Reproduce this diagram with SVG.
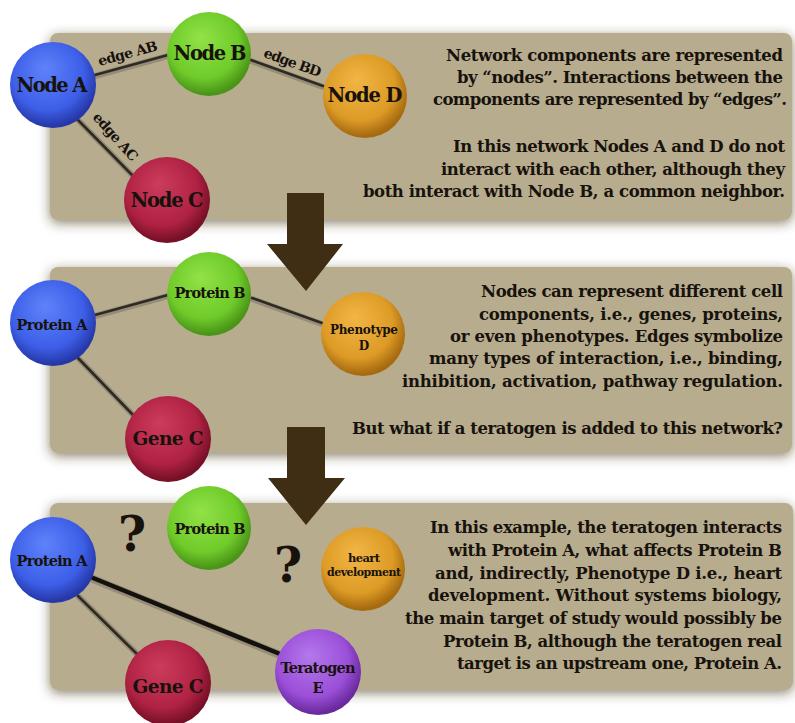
<svg xmlns="http://www.w3.org/2000/svg" width="795" height="723" viewBox="0 0 795 723">
  <defs>
    <filter id="panelShadow" x="-5%" y="-12%" width="110%" height="128%">
      <feDropShadow dx="0" dy="3" stdDeviation="6" flood-color="#3d2e14" flood-opacity="0.6"/>
    </filter>
    <radialGradient id="gBlue" cx="45%" cy="40%" r="58%" fx="40%" fy="30%">
      <stop offset="0" stop-color="#5f82fa"/>
      <stop offset="0.72" stop-color="#3d5fe8"/>
      <stop offset="1" stop-color="#2638a8"/>
    </radialGradient>
    <radialGradient id="gGreen" cx="45%" cy="40%" r="58%" fx="40%" fy="30%">
      <stop offset="0" stop-color="#92e248"/>
      <stop offset="0.72" stop-color="#6fcb2a"/>
      <stop offset="1" stop-color="#4a9418"/>
    </radialGradient>
    <radialGradient id="gOrange" cx="45%" cy="40%" r="58%" fx="40%" fy="30%">
      <stop offset="0" stop-color="#f2b646"/>
      <stop offset="0.72" stop-color="#dd9b26"/>
      <stop offset="1" stop-color="#a66a10"/>
    </radialGradient>
    <radialGradient id="gRed" cx="45%" cy="40%" r="58%" fx="40%" fy="30%">
      <stop offset="0" stop-color="#cc3c5c"/>
      <stop offset="0.72" stop-color="#b02244"/>
      <stop offset="1" stop-color="#761026"/>
    </radialGradient>
    <radialGradient id="gPurple" cx="45%" cy="40%" r="58%" fx="40%" fy="30%">
      <stop offset="0" stop-color="#b478ec"/>
      <stop offset="0.72" stop-color="#9b4fd8"/>
      <stop offset="1" stop-color="#6a2a9e"/>
    </radialGradient>
  </defs>
  <style>
    .panel { fill: #b8ac8f; filter: url(#panelShadow); }
    .arrow { fill: #3f2d14; }
    .edge-halo { stroke: #968c78; stroke-width: 6; stroke-linecap: round; fill: none; }
    .edge { stroke: #2e2a22; stroke-width: 2.6; stroke-linecap: round; fill: none; }
    .edge-strong { stroke: #14110c; stroke-width: 4.5; stroke-linecap: round; fill: none; }
    text { font-family: "DejaVu Serif", "Liberation Serif", serif; font-weight: bold; fill: #17120c; }
    .body { font-size: 16.5px; text-anchor: end; }
    .label { text-anchor: middle; }
    .elabel { font-size: 14px; text-anchor: middle; }
    .q { font-size: 48px; text-anchor: middle; }
  </style>

  <!-- background panels -->
  <g id="panels">
    <rect class="panel" x="50" y="33" width="742" height="187" rx="8"/>
    <rect class="panel" x="50" y="267" width="742" height="186" rx="8"/>
    <rect class="panel" x="50" y="503" width="743" height="187" rx="8"/>
  </g>

  <!-- flow arrows between panels -->
  <g id="arrows">
    <path class="arrow" d="M287,193 H324 V244 H343 L306,291 L267,244 H287 Z"/>
    <path class="arrow" d="M287,427 H325 V478 H345 L306,525 L268,478 H287 Z"/>
  </g>

  <!-- connectors -->
  <g id="connectors">
    <line class="edge-halo" x1="95" y1="76" x2="168" y2="56"/>
    <line class="edge" x1="95" y1="75" x2="168" y2="55"/>
    <line class="edge-halo" x1="251" y1="61" x2="323" y2="87"/>
    <line class="edge" x1="251" y1="60" x2="323" y2="86"/>
    <line class="edge-halo" x1="79" y1="121" x2="134" y2="177"/>
    <line class="edge" x1="78" y1="120" x2="133" y2="176"/>

    <line class="edge-halo" x1="95" y1="316" x2="168" y2="296"/>
    <line class="edge" x1="95" y1="315" x2="168" y2="295"/>
    <line class="edge-halo" x1="252" y1="299" x2="322" y2="324"/>
    <line class="edge" x1="252" y1="298" x2="322" y2="323"/>
    <line class="edge-halo" x1="79" y1="359" x2="134" y2="416"/>
    <line class="edge" x1="78" y1="358" x2="133" y2="415"/>

    <line class="edge-halo" x1="79" y1="597" x2="139" y2="656"/>
    <line class="edge" x1="78" y1="596" x2="138" y2="655"/>
    <line class="edge-halo" style="stroke-width:8" x1="93" y1="579" x2="280" y2="655"/>
    <line class="edge-strong" x1="93" y1="578" x2="280" y2="654"/>
  </g>

  <!-- edge labels -->
  <g id="edge-labels">
    <text class="elabel" transform="translate(129,58) rotate(-15)" textLength="61">edge AB</text>
    <text class="elabel" transform="translate(291,67) rotate(20)" textLength="60">edge BD</text>
    <text class="elabel" transform="translate(112,140) rotate(48)" textLength="60">edge AC</text>
  </g>

  <!-- panel 1 nodes -->
  <g id="node-a">
    <circle cx="53" cy="85" r="43" fill="url(#gBlue)"/>
    <text class="label" x="52" y="92" font-size="19.5" textLength="71">Node A</text>
  </g>
  <g id="node-b">
    <circle cx="209" cy="54" r="42" fill="url(#gGreen)"/>
    <text class="label" x="210" y="60" font-size="19.5" textLength="73">Node B</text>
  </g>
  <g id="node-d">
    <circle cx="365" cy="96" r="42" fill="url(#gOrange)"/>
    <text class="label" x="365" y="102" font-size="19.5" textLength="75">Node D</text>
  </g>
  <g id="node-c">
    <circle cx="167" cy="200" r="43" fill="url(#gRed)"/>
    <text class="label" x="167" y="207" font-size="19.5" textLength="73">Node C</text>
  </g>

  <!-- panel 2 nodes -->
  <g id="protein-a-1">
    <circle cx="53" cy="323" r="43" fill="url(#gBlue)"/>
    <text class="label" x="52" y="330" font-size="14.5" textLength="71">Protein A</text>
  </g>
  <g id="protein-b-1">
    <circle cx="209" cy="294" r="42" fill="url(#gGreen)"/>
    <text class="label" x="210" y="298" font-size="14.5" textLength="71">Protein B</text>
  </g>
  <g id="phenotype-d">
    <circle cx="363" cy="334" r="42" fill="url(#gOrange)"/>
    <text class="label" x="364" y="334" font-size="12" textLength="68">Phenotype</text>
    <text class="label" x="364" y="350" font-size="12">D</text>
  </g>
  <g id="gene-c-1">
    <circle cx="168" cy="439" r="43" fill="url(#gRed)"/>
    <text class="label" x="168" y="445" font-size="18.5" textLength="71">Gene C</text>
  </g>

  <!-- panel 3 nodes -->
  <g id="protein-a-2">
    <circle cx="53" cy="560" r="43" fill="url(#gBlue)"/>
    <text class="label" x="52" y="566" font-size="14.5" textLength="71">Protein A</text>
  </g>
  <g id="protein-b-2">
    <circle cx="209" cy="528" r="42" fill="url(#gGreen)"/>
    <text class="label" x="210" y="534" font-size="14.5" textLength="71">Protein B</text>
  </g>
  <g id="heart-development">
    <circle cx="363" cy="569" r="42" fill="url(#gOrange)"/>
    <text class="label" x="364" y="562" font-size="11.5" textLength="32">heart</text>
    <text class="label" x="364" y="576" font-size="11" textLength="74">development</text>
  </g>
  <g id="gene-c-2">
    <circle cx="168" cy="683" r="43" fill="url(#gRed)"/>
    <text class="label" x="168" y="693" font-size="18.5" textLength="71">Gene C</text>
  </g>
  <g id="teratogen-e">
    <circle cx="318" cy="672" r="43" fill="url(#gPurple)"/>
    <text class="label" x="318" y="673" font-size="14.5" textLength="75">Teratogen</text>
    <text class="label" x="318" y="693" font-size="14.5">E</text>
  </g>

  <!-- unknown-effect markers -->
  <g id="question-marks">
    <text class="q" x="132" y="551">?</text>
    <text class="q" x="288" y="582">?</text>
  </g>

  <!-- panel descriptions -->
  <g id="text-1">
    <text class="body" x="783" y="61" textLength="337">Network components are represented</text>
    <text class="body" x="783" y="83" textLength="326">by “nodes”. Interactions between the</text>
    <text class="body" x="787" y="105" textLength="354">components are represented by “edges”.</text>
    <text class="body" x="785" y="152" textLength="332">In this network Nodes A and D do not</text>
    <text class="body" x="785" y="175" textLength="344">interact with each other, although they</text>
    <text class="body" x="785" y="197" textLength="422">both interact with Node B, a common neighbor.</text>
  </g>
  <g id="text-2">
    <text class="body" x="783" y="297" textLength="302">Nodes can represent different cell</text>
    <text class="body" x="783" y="320" textLength="304">components, i.e., genes, proteins,</text>
    <text class="body" x="783" y="342" textLength="333">or even phenotypes. Edges symbolize</text>
    <text class="body" x="783" y="364" textLength="354">many types of interaction, i.e., binding,</text>
    <text class="body" x="783" y="387" textLength="381">inhibition, activation, pathway regulation.</text>
    <text class="body" x="783" y="434" textLength="431">But what if a teratogen is added to this network?</text>
  </g>
  <g id="text-3">
    <text class="body" x="782" y="533" textLength="352">In this example, the teratogen interacts</text>
    <text class="body" x="782" y="556" textLength="334">with Protein A, what affects Protein B</text>
    <text class="body" x="782" y="579" textLength="347">and, indirectly, Phenotype D i.e., heart</text>
    <text class="body" x="782" y="601" textLength="354">development. Without systems biology,</text>
    <text class="body" x="782" y="624" textLength="377">the main target of study would possibly be</text>
    <text class="body" x="782" y="647" textLength="339">Protein B, although the teratogen real</text>
    <text class="body" x="782" y="669" textLength="325">target is an upstream one, Protein A.</text>
  </g>
</svg>
